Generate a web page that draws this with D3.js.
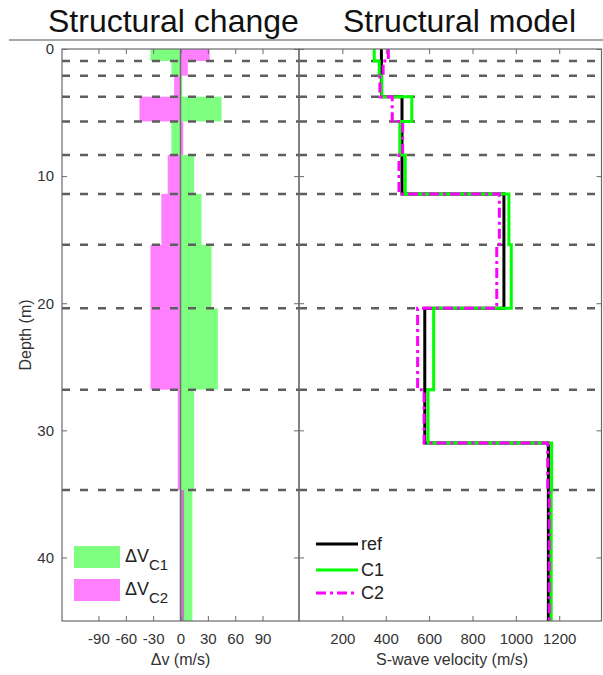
<!DOCTYPE html>
<html>
<head>
<meta charset="utf-8">
<script src="https://cdn.jsdelivr.net/npm/d3@7"></script>
<style>
  html, body { margin: 0; padding: 0; background: #fff; }
  svg { display: block; font-family: "Liberation Sans", Arial, sans-serif; }
</style>
</head>
<body>
<svg id="chart" width="603" height="675"></svg>
<script>
// Layer boundaries of the inversion (m)
const layerTops    = [0, 0.94, 2.1, 3.75, 5.7, 8.33, 11.4, 15.4, 20.4, 26.8, 34.7];
const layerBottoms = [0.94, 2.1, 3.75, 5.7, 8.33, 11.4, 15.4, 20.4, 26.8, 34.7, 45];
// Velocity change per layer (m/s)
const dvC1 = [-33, -10, 2, 45, -10, 15, 23, 34, 41, 15, 13];
const dvC2 = [32, 8, -7, -45, 3, -14, -21, -33, -33, -3, 4];
// Reference S-wave model: layer tops, bottoms, velocities (m/s)
const refTops    = [0, 3.75, 11.4, 20.4, 31];
const refBottoms = [3.75, 11.4, 20.4, 31, 45];
const refVs      = [380, 475, 945, 580, 1150];
// Dashed interface depths
const interfaces = [0.94, 2.1, 3.75, 5.7, 8.33, 11.4, 15.4, 20.4, 26.8, 34.7];
// Tick labels
const depthTicks = [0, 10, 20, 30, 40];
const dvTicks = [-90, -60, -30, 0, 30, 60, 90];
const vsTicks = [200, 400, 600, 800, 1000, 1200];

const svg = d3.select("#chart");
const frameColor = "#6a6a6a";
const plain = d => String(d);

const y  = d3.scaleLinear().domain([0, 45]).range([49, 621]);
const xL = d3.scaleLinear().domain([-130, 130]).range([62, 299]);
const xR = d3.scaleLinear().domain([0, 1395]).range([299, 601.5]);

// Top rule and titles
svg.append("line").attr("x1", 9).attr("x2", 603).attr("y1", 40).attr("y2", 40)
  .attr("stroke", "#8a8a8a").attr("stroke-width", 1.5);
svg.append("text").attr("x", 48).attr("y", 32).attr("font-size", 32).attr("fill", "#111")
  .text("Structural change");
svg.append("text").attr("x", 343).attr("y", 32).attr("font-size", 32).attr("fill", "#111")
  .text("Structural model");

// ---------- Left panel: velocity change bars ----------
const left = svg.append("g");
const layers = layerTops.map((t, i) => ({ top: t, bottom: layerBottoms[i], c1: dvC1[i], c2: dvC2[i] }));

left.selectAll("rect.c1").data(layers).join("rect").attr("class", "c1")
  .attr("x", d => xL(Math.min(0, d.c1))).attr("width", d => Math.abs(xL(d.c1) - xL(0)))
  .attr("y", d => y(d.top)).attr("height", d => y(d.bottom) - y(d.top))
  .attr("fill", "#00ff00").attr("fill-opacity", 0.5);
left.selectAll("rect.c2").data(layers).join("rect").attr("class", "c2")
  .attr("x", d => xL(Math.min(0, d.c2))).attr("width", d => Math.abs(xL(d.c2) - xL(0)))
  .attr("y", d => y(d.top)).attr("height", d => y(d.bottom) - y(d.top))
  .attr("fill", "#ff00ff").attr("fill-opacity", 0.5);

left.append("line").attr("x1", xL(0)).attr("x2", xL(0)).attr("y1", y(0)).attr("y2", y(45))
  .attr("stroke", "#707070").attr("stroke-width", 1.5);

function dashed(g, x0, x1) {
  g.selectAll("line.iface").data(interfaces).join("line").attr("class", "iface")
    .attr("x1", x0).attr("x2", x1).attr("y1", d => y(d)).attr("y2", d => y(d))
    .attr("stroke", "#5e5e5e").attr("stroke-width", 2.5).attr("stroke-dasharray", "8,10");
}
dashed(left, 62, 299);

// ---------- Right panel: velocity profiles ----------
const right = svg.append("g");
dashed(right, 299, 601.5);

function profile(offsets) {
  const pts = [];
  refTops.forEach((rt, j) => {
    layerTops.forEach((lt, i) => {
      const top = Math.max(rt, lt), bot = Math.min(refBottoms[j], layerBottoms[i]);
      if (bot > top) {
        const v = refVs[j] + (offsets ? offsets[i] : 0);
        pts.push([v, top], [v, bot]);
      }
    });
  });
  return pts;
}
const line = d3.line().x(d => xR(d[0])).y(d => y(d[1]));

right.append("path").attr("d", line(profile(null))).attr("fill", "none")
  .attr("stroke", "#000").attr("stroke-width", 3);
right.append("path").attr("d", line(profile(dvC1))).attr("fill", "none")
  .attr("stroke", "#00ff00").attr("stroke-width", 3);
right.append("path").attr("d", line(profile(dvC2))).attr("fill", "none")
  .attr("stroke", "#ff00ff").attr("stroke-width", 3).attr("stroke-dasharray", "10,4,3,4");

// ---------- Axes ----------
function styleAxis(g) {
  g.select(".domain").remove();
  g.selectAll(".tick line").attr("stroke", frameColor);
  g.selectAll(".tick text").attr("font-size", 15).attr("fill", "#333")
    .attr("font-family", "Liberation Sans, Arial, sans-serif");
}
// left panel
svg.append("g").attr("transform", "translate(0,621)")
  .call(d3.axisBottom(xL).tickValues(dvTicks).tickSize(-5).tickPadding(12).tickFormat(plain)).call(styleAxis);
svg.append("g").attr("transform", "translate(0,49)")
  .call(d3.axisTop(xL).tickValues(dvTicks).tickSize(-5).tickFormat("")).call(styleAxis);
svg.append("g").attr("transform", "translate(62,0)")
  .call(d3.axisLeft(y).tickValues(depthTicks).tickSize(-5).tickPadding(8).tickFormat(plain)).call(styleAxis);
svg.append("g").attr("transform", "translate(299,0)")
  .call(d3.axisRight(y).tickValues(depthTicks).tickSize(-5).tickFormat("")).call(styleAxis);
// right panel
svg.append("g").attr("transform", "translate(0,621)")
  .call(d3.axisBottom(xR).tickValues(vsTicks).tickSize(-5).tickPadding(12).tickFormat(plain)).call(styleAxis);
svg.append("g").attr("transform", "translate(0,49)")
  .call(d3.axisTop(xR).tickValues(vsTicks).tickSize(-5).tickFormat("")).call(styleAxis);
svg.append("g").attr("transform", "translate(299,0)")
  .call(d3.axisLeft(y).tickValues(depthTicks).tickSize(-5).tickFormat("")).call(styleAxis);
svg.append("g").attr("transform", "translate(601.5,0)")
  .call(d3.axisRight(y).tickValues(depthTicks).tickSize(-5).tickFormat("")).call(styleAxis);

// frames
[[62, 299], [299, 601.5]].forEach(([a, b]) => {
  svg.append("rect").attr("x", a).attr("y", 49).attr("width", b - a).attr("height", 572)
    .attr("fill", "none").attr("stroke", frameColor).attr("stroke-width", 1.2);
});

// axis labels
svg.append("text").attr("transform", "translate(31,335) rotate(-90)")
  .attr("text-anchor", "middle").attr("font-size", 16).attr("fill", "#333").text("Depth (m)");
svg.append("text").attr("x", xL(0)).attr("y", 665)
  .attr("text-anchor", "middle").attr("font-size", 16).attr("fill", "#333").text("Δv (m/s)");
svg.append("text").attr("x", 452).attr("y", 665)
  .attr("text-anchor", "middle").attr("font-size", 16).attr("fill", "#333").text("S-wave velocity (m/s)");

// ---------- Legends ----------
const legL = [
  { color: "#00ff00", sub: "C1", y: 546 },
  { color: "#ff00ff", sub: "C2", y: 579 }
];
legL.forEach(d => {
  svg.append("rect").attr("x", 74).attr("y", d.y).attr("width", 46).attr("height", 22)
    .attr("fill", d.color).attr("fill-opacity", 0.5);
  const t = svg.append("text").attr("x", 125).attr("y", d.y + 16).attr("font-size", 18).attr("fill", "#222");
  t.append("tspan").text("ΔV");
  t.append("tspan").attr("dy", 8).attr("font-size", 15).text(d.sub);
});

const legR = [
  { label: "ref", color: "#000", dash: null, y: 544 },
  { label: "C1", color: "#00ff00", dash: null, y: 570 },
  { label: "C2", color: "#ff00ff", dash: "10,4,3,4", y: 593 }
];
legR.forEach(d => {
  const l = svg.append("line").attr("x1", 316).attr("x2", 358).attr("y1", d.y).attr("y2", d.y)
    .attr("stroke", d.color).attr("stroke-width", 3);
  if (d.dash) l.attr("stroke-dasharray", d.dash);
  svg.append("text").attr("x", 361).attr("y", d.y + 6).attr("font-size", 18).attr("fill", "#222").text(d.label);
});
</script>
</body>
</html>
